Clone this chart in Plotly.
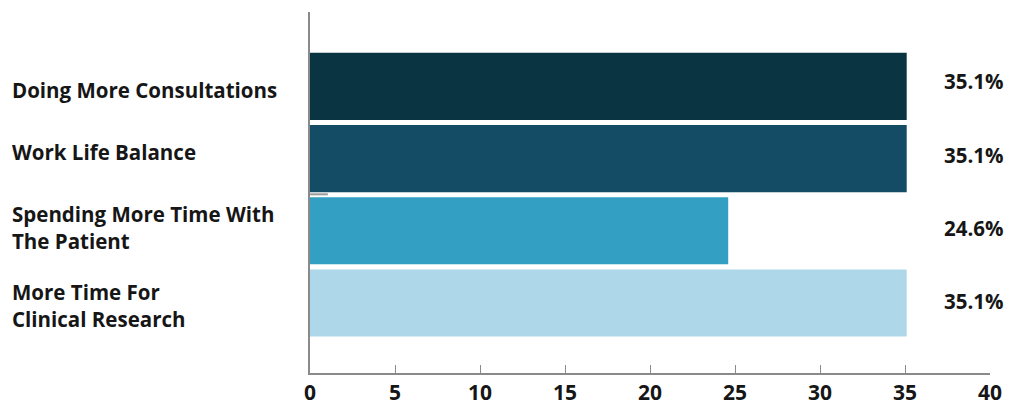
import plotly.graph_objects as go

# Survey answers, top to bottom
categories = [
    "Doing More Consultations",
    "Work Life Balance",
    "Spending More Time With<br>The Patient",
    "More Time For<br>Clinical Research",
]
values = [35.1, 35.1, 24.6, 35.1]
value_labels = ["35.1%", "35.1%", "24.6%", "35.1%"]
x_ticks = [0, 5, 10, 15, 20, 25, 30, 35, 40]

bar_colors = ["#0a3441", "#144c66", "#339fc3", "#afd7ea"]
label_font = "Open Sans"
text_color = "#161616"
axis_color = "#8a8a8a"

rows = list(range(len(categories)))

fig = go.Figure()
fig.add_trace(go.Bar(
    x=values,
    y=rows,
    orientation="h",
    width=0.93,
    marker=dict(color=bar_colors, line=dict(width=0)),
    hoverinfo="skip",
))

# Category labels, left aligned at the page edge
cat_shift = [-4, 7, 3, -3]
for i, name in enumerate(categories):
    fig.add_annotation(
        x=0, xref="paper", xshift=-300, xanchor="left",
        y=i, yref="y", yshift=cat_shift[i],
        text=name, showarrow=False, align="left",
        font=dict(family=label_font, size=20.5, color=text_color, weight="bold"),
    )

# Value labels to the right of the bars
val_shift = [5, 4, 3, 2]
for i, lab in enumerate(value_labels):
    fig.add_annotation(
        x=37.15, xref="x", xanchor="left",
        y=i, yref="y", yshift=val_shift[i],
        text=lab, showarrow=False,
        font=dict(family=label_font, size=20.5, color=text_color, weight="bold"),
    )

# short gray stroke beside the axis
fig.add_shape(type="line", xref="x", yref="y",
              x0=0, x1=1.05, y0=1.495, y1=1.495,
              line=dict(color="#9a9a9a", width=2))

fig.update_layout(
    width=1011, height=407,
    margin=dict(l=310, r=21, t=12, b=34),
    paper_bgcolor="white", plot_bgcolor="white",
    showlegend=False,
    xaxis=dict(
        range=[0, 40], tickvals=x_ticks, ticktext=[str(t) for t in x_ticks],
        showgrid=False, zeroline=False, automargin=False,
        showline=True, linecolor=axis_color, linewidth=2,
        ticks="inside", ticklen=8, tickwidth=1, tickcolor=axis_color,
        tickfont=dict(family=label_font, size=21, color=text_color, weight="bold"),
        ticklabelstandoff=0,
        fixedrange=True,
    ),
    yaxis=dict(
        range=[3.97, -1.03], showticklabels=False, showgrid=False,
        zeroline=False, showline=True, linecolor=axis_color, linewidth=2,
        ticks="", fixedrange=True, automargin=False,
    ),
)

fig.write_html("out.html")
